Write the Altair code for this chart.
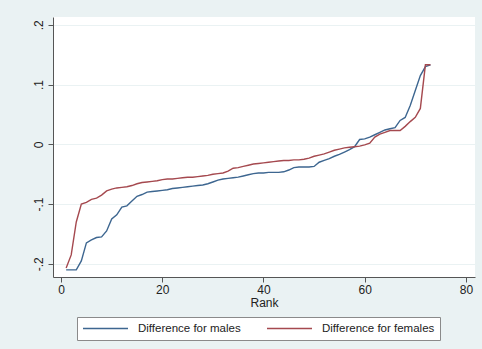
import altair as alt
import pandas as pd

rank = list(range(1, 74))

males = [
    -0.210, -0.210, -0.210, -0.195, -0.165, -0.160, -0.156, -0.155, -0.145, -0.125,
    -0.118, -0.105, -0.103, -0.095, -0.087, -0.084, -0.080, -0.079, -0.078, -0.077,
    -0.076, -0.074, -0.073, -0.072, -0.071, -0.070, -0.069, -0.068, -0.066, -0.063,
    -0.060, -0.058, -0.057, -0.056, -0.055, -0.053, -0.051, -0.049, -0.048, -0.048,
    -0.047, -0.047, -0.047, -0.046, -0.043, -0.039, -0.038, -0.038, -0.038, -0.037,
    -0.030, -0.027, -0.024, -0.020, -0.017, -0.013, -0.009, -0.004, 0.008, 0.009,
    0.012, 0.016, 0.020, 0.024, 0.026, 0.028, 0.040, 0.045, 0.065, 0.090,
    0.115, 0.130, 0.133,
]

females = [
    -0.207, -0.185, -0.130, -0.100, -0.097, -0.092, -0.090, -0.085, -0.078, -0.075,
    -0.073, -0.072, -0.071, -0.069, -0.066, -0.064, -0.063, -0.062, -0.061, -0.059,
    -0.058, -0.058, -0.057, -0.056, -0.055, -0.055, -0.054, -0.053, -0.052, -0.050,
    -0.049, -0.048, -0.045, -0.040, -0.039, -0.037, -0.035, -0.033, -0.032, -0.031,
    -0.030, -0.029, -0.028, -0.027, -0.027, -0.026, -0.026, -0.025, -0.023, -0.020,
    -0.018, -0.016, -0.013, -0.010, -0.008, -0.006, -0.005, -0.004, -0.003, -0.001,
    0.002, 0.012, 0.017, 0.020, 0.023, 0.023, 0.023, 0.030, 0.038, 0.045,
    0.060, 0.133, 0.133,
]

series_names = ["Difference for males", "Difference for females"]
series_colors = ["#3d6690", "#a5494f"]
x_ticks = [0, 20, 40, 60, 80]
y_ticks = [-0.2, -0.1, 0, 0.1, 0.2]

rows = []
for name, vals in zip(series_names, [males, females]):
    for r, v in zip(rank, vals):
        rows.append({"Rank": r, "value": v, "series": name})
df = pd.DataFrame(rows)

FONT = "Liberation Sans"

chart = alt.Chart(df).mark_line(strokeWidth=1.4, interpolate="linear").encode(
    x=alt.X("Rank:Q",
            scale=alt.Scale(domain=[-1.6, 81.8], nice=False, zero=False),
            axis=alt.Axis(values=x_ticks, title="Rank", grid=False,
                          tickSize=5, labelPadding=2, titlePadding=2,
                          labelFontSize=12, titleFontSize=12,
                          labelFlush=False)),
    y=alt.Y("value:Q",
            scale=alt.Scale(domain=[-0.222, 0.213], nice=False, zero=False),
            axis=alt.Axis(values=y_ticks, title=None, grid=True,
                          tickSize=5, labelPadding=3, labelAngle=270,
                          labelAlign="center", labelBaseline="bottom",
                          labelFontSize=12,
                          labelExpr="datum.value == 0 ? '0' : (datum.value < 0 ? '-.' : '.') + round(abs(datum.value) * 10)")),
    color=alt.Color("series:N",
                    scale=alt.Scale(domain=series_names, range=series_colors),
                    sort=series_names,
                    legend=alt.Legend(title=None, orient="none", legendX=24, legendY=300,
                                      direction="horizontal",
                                      symbolType="stroke", symbolSize=2025,
                                      symbolStrokeWidth=1.4, clipHeight=13,
                                      labelFontSize=11.5, labelOffset=9,
                                      columnPadding=25, padding=5,
                                      fillColor="white", strokeColor="#8a8a8a")),
).properties(
    width=422,
    height=260,
    background="#eaf2f3",
    padding={"left": 53, "top": 17, "right": 7, "bottom": 72},
    autosize=alt.AutoSizeParams(type="none"),
).configure_view(
    fill="white", stroke=None
).configure_axis(
    domainColor="#555555", tickColor="#555555", labelColor="#222222",
    titleColor="#222222", gridColor="#eaf2f3", gridWidth=1,
    labelFont=FONT, titleFont=FONT, titleFontWeight="normal",
    domainWidth=1, tickWidth=1,
).configure_legend(
    labelFont=FONT, labelColor="#222222",
)

chart.save("out.html", embed_options={"renderer": "svg", "actions": False})
